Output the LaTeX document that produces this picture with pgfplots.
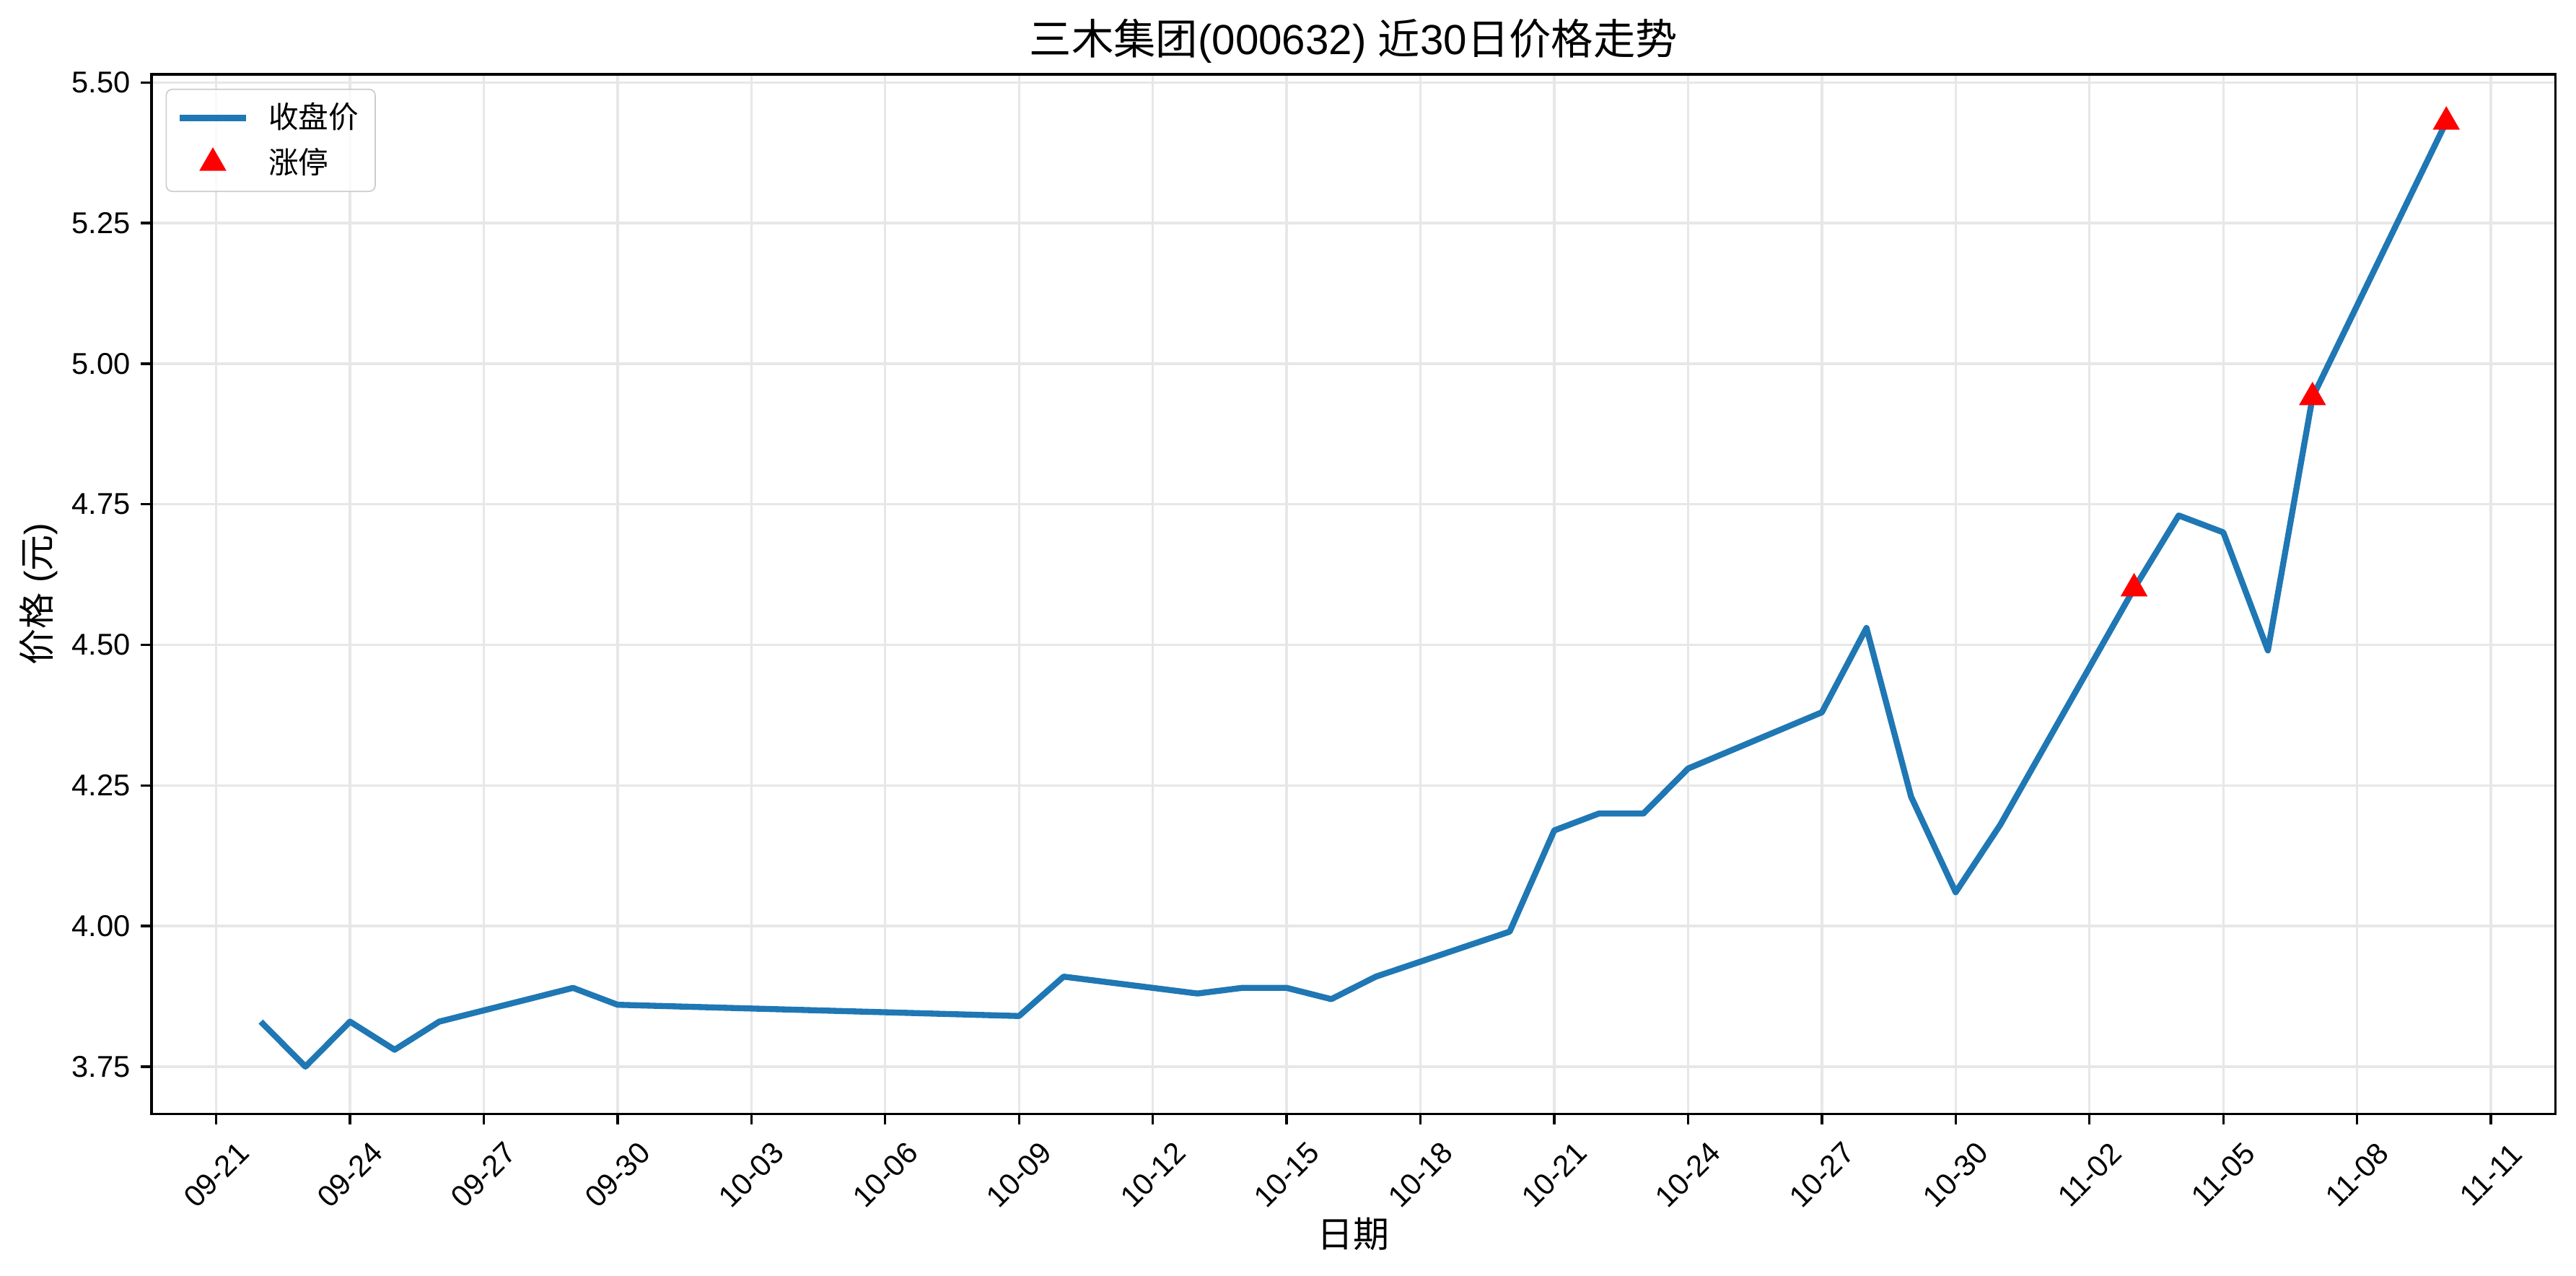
\documentclass[border=0pt]{standalone}
\usepackage{fontspec}
\setmainfont{Liberation Sans}
\newfontfamily\cjk{Noto Sans CJK SC}
\usepackage{pgfplots}
\pgfplotsset{compat=1.18}
\definecolor{mplblue}{HTML}{1F77B4}
\definecolor{gridc}{RGB}{231,231,231}
\pgfplotsset{
  lineleg/.style={legend image code/.code={\draw[##1, draw opacity=1] (0pt,0pt) -- (22pt,0pt); \path[draw=none,fill=none] (0pt,0pt) rectangle (27.5pt,0.1pt);}},
  markleg/.style={legend image code/.code={\draw[##1, fill opacity=1, draw opacity=1] plot coordinates {(11pt,0pt)}; \path[draw=none,fill=none] (0pt,0pt) rectangle (27.5pt,0.1pt);}},
}
\begin{document}
\begin{tikzpicture}
\useasboundingbox (-50.4pt,-53.7pt) rectangle (806.4pt,370.4pt);
\begin{axis}[
  at={(0,0)}, anchor=south west,
  scale only axis,
  width=799.6pt, height=345.7pt,
  xmin=-1.45, xmax=52.45,
  ymin=3.666, ymax=5.5145,
  xtick={0,3,...,51},
  xticklabels={09-21,09-24,09-27,09-30,10-03,10-06,10-09,10-12,10-15,10-18,10-21,10-24,10-27,10-30,11-02,11-05,11-08,11-11},
  ytick={3.75,4.00,4.25,4.50,4.75,5.00,5.25,5.50},
  yticklabel style={/pgf/number format/.cd, fixed, fixed zerofill, precision=2, assume math mode=true},
  ticklabel style={font=\fontsize{10}{12}\selectfont},
  x tick label style={yshift=-16.8pt, rotate=45, anchor=center},
  tick align=outside,
  major tick length=3.5pt,
  tick style={black, line width=0.8pt},
  axis line style={black, line width=0.8pt},
  xtick pos=bottom, ytick pos=left,
  grid=major,
  major grid style={gridc, line width=0.8pt},
  title={{\cjk 三木集团}(000632) {\cjk 近}30{\cjk 日价格走势}},
  title style={at={(axis description cs:0.5,1)}, anchor=center, yshift=5.1pt, font=\fontsize{14}{17}\selectfont},
  xlabel={\cjk 日期},
  xlabel style={at={(axis description cs:0.5,0)}, anchor=center, yshift=-40pt, font=\fontsize{12}{14}\selectfont},
  ylabel={{\cjk 价格} ({\cjk 元})},
  ylabel style={at={(axis description cs:0,0.5)}, anchor=center, yshift=37.6pt, font=\fontsize{12}{14}\selectfont},
  legend style={at={(axis description cs:0,1)}, anchor=north west, xshift=4.7pt, yshift=-4.8pt,
    draw=black!20, fill=white, fill opacity=0.8, text opacity=1, rounded corners=2pt,
    font=\fontsize{10}{12}\selectfont, row sep=1pt, inner xsep=3.5pt, inner ysep=2.5pt},
  legend cell align=left,
  clip=false,
]
\addplot[mplblue, line width=2pt, line join=round, lineleg] coordinates {
(1,3.83) (2,3.75) (3,3.83) (4,3.78) (5,3.83) (8,3.89) (9,3.86) (18,3.84) (19,3.91)
(22,3.88) (23,3.89) (24,3.89) (25,3.87) (26,3.91) (29,3.99) (30,4.17) (31,4.20)
(32,4.20) (33,4.28) (36,4.38) (37,4.53) (38,4.23) (39,4.06) (40,4.18) (43,4.60)
(44,4.73) (45,4.70) (46,4.49) (47,4.94) (50,5.43)
};
\addlegendentry{\cjk 收盘价}
\addplot[only marks, mark=triangle*, mark size=4.8pt, red, mark options={draw=red, fill=red}, markleg] coordinates {
(43,4.60) (47,4.94) (50,5.43)
};
\addlegendentry{\cjk 涨停}
\end{axis}
\end{tikzpicture}
\end{document}
